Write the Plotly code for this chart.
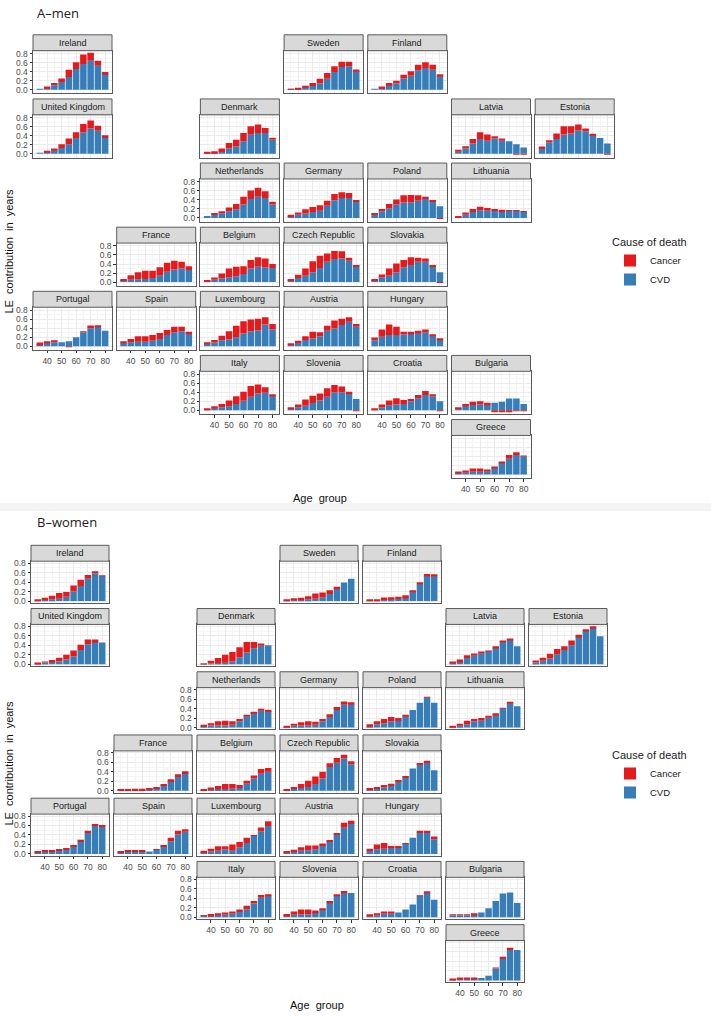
import plotly.graph_objects as go

# ---- data: LE contribution (years) by age group, CVD and cancer ----
ages = [35, 40, 45, 50, 55, 60, 65, 70, 75, 80]
countries = ["Ireland", "Sweden", "Finland", "United Kingdom", "Denmark", "Latvia", "Estonia",
             "Netherlands", "Germany", "Poland", "Lithuania", "France", "Belgium",
             "Czech Republic", "Slovakia", "Portugal", "Spain", "Luxembourg", "Austria",
             "Hungary", "Italy", "Slovenia", "Croatia", "Bulgaria", "Greece"]

men_cvd = {
    "Ireland":        [0.02, 0.04, 0.10, 0.17, 0.28, 0.46, 0.57, 0.64, 0.53, 0.35],
    "United Kingdom": [0.02, 0.03, 0.08, 0.13, 0.21, 0.35, 0.48, 0.56, 0.51, 0.35],
    "Sweden":         [0.01, 0.02, 0.06, 0.08, 0.14, 0.24, 0.39, 0.50, 0.52, 0.41],
    "Finland":        [0.02, 0.04, 0.11, 0.14, 0.25, 0.31, 0.43, 0.48, 0.44, 0.30],
    "Denmark":        [0.01, 0.02, 0.04, 0.12, 0.16, 0.28, 0.42, 0.46, 0.46, 0.31],
    "Latvia":         [0.05, 0.12, 0.23, 0.33, 0.29, 0.34, 0.29, 0.28, 0.21, 0.14],
    "Estonia":        [0.13, 0.25, 0.33, 0.43, 0.45, 0.52, 0.50, 0.42, 0.35, 0.23],
    "Lithuania":      [0.02, 0.07, 0.13, 0.17, 0.16, 0.16, 0.15, 0.16, 0.16, 0.14],
    "Netherlands":    [0.04, 0.07, 0.10, 0.15, 0.19, 0.30, 0.42, 0.47, 0.44, 0.30],
    "Germany":        [0.04, 0.07, 0.10, 0.13, 0.16, 0.27, 0.39, 0.44, 0.44, 0.36],
    "Poland":         [0.08, 0.15, 0.21, 0.30, 0.34, 0.35, 0.38, 0.42, 0.37, 0.26],
    "France":         [0.04, 0.05, 0.06, 0.07, 0.09, 0.14, 0.23, 0.28, 0.30, 0.27],
    "Belgium":        [0.02, 0.05, 0.08, 0.10, 0.13, 0.18, 0.30, 0.34, 0.33, 0.31],
    "Czech Republic": [0.03, 0.09, 0.14, 0.22, 0.31, 0.45, 0.51, 0.52, 0.47, 0.34],
    "Slovakia":       [0.04, 0.10, 0.14, 0.21, 0.33, 0.38, 0.45, 0.45, 0.35, 0.22],
    "Portugal":       [0.04, 0.07, 0.09, 0.09, 0.11, 0.20, 0.31, 0.40, 0.43, 0.34],
    "Spain":          [0.07, 0.09, 0.10, 0.10, 0.12, 0.16, 0.25, 0.31, 0.33, 0.28],
    "Luxembourg":     [0.05, 0.08, 0.13, 0.15, 0.20, 0.28, 0.33, 0.35, 0.48, 0.37],
    "Austria":        [0.04, 0.07, 0.14, 0.17, 0.22, 0.34, 0.39, 0.47, 0.54, 0.43],
    "Hungary":        [0.13, 0.21, 0.25, 0.25, 0.26, 0.28, 0.30, 0.31, 0.23, 0.15],
    "Italy":          [0.02, 0.05, 0.07, 0.09, 0.14, 0.21, 0.30, 0.37, 0.39, 0.33],
    "Slovenia":       [0.04, 0.07, 0.10, 0.16, 0.22, 0.30, 0.40, 0.40, 0.37, 0.25],
    "Croatia":        [0.02, 0.06, 0.11, 0.13, 0.14, 0.20, 0.27, 0.34, 0.31, 0.20],
    "Bulgaria":       [0.04, 0.10, 0.12, 0.13, 0.13, 0.17, 0.19, 0.26, 0.26, 0.14],
    "Greece":         [0.03, 0.05, 0.06, 0.06, 0.07, 0.14, 0.26, 0.35, 0.43, 0.40],
}
men_cancer = {
    "Ireland":        [0.00, 0.03, 0.05, 0.08, 0.16, 0.15, 0.21, 0.18, 0.11, 0.04],
    "United Kingdom": [0.00, 0.04, 0.04, 0.08, 0.13, 0.13, 0.18, 0.18, 0.11, 0.06],
    "Sweden":         [0.01, 0.02, 0.03, 0.07, 0.10, 0.13, 0.13, 0.12, 0.10, 0.04],
    "Finland":        [0.00, 0.03, 0.04, 0.06, 0.08, 0.10, 0.12, 0.13, 0.11, 0.04],
    "Denmark":        [0.02, 0.04, 0.08, 0.12, 0.15, 0.18, 0.19, 0.19, 0.11, 0.04],
    "Latvia":         [0.03, 0.05, 0.10, 0.15, 0.14, 0.05, 0.05, 0.00, -0.02, -0.02],
    "Estonia":        [0.03, 0.05, 0.12, 0.18, 0.16, 0.13, 0.06, 0.01, 0.00, -0.02],
    "Lithuania":      [0.01, 0.05, 0.07, 0.08, 0.06, 0.04, 0.03, 0.01, 0.01, 0.01],
    "Netherlands":    [0.00, 0.03, 0.05, 0.08, 0.12, 0.17, 0.19, 0.20, 0.15, 0.06],
    "Germany":        [0.03, 0.05, 0.09, 0.11, 0.12, 0.11, 0.14, 0.13, 0.11, 0.03],
    "Poland":         [0.03, 0.05, 0.10, 0.11, 0.16, 0.16, 0.12, 0.05, 0.02, -0.02],
    "France":         [0.03, 0.10, 0.16, 0.18, 0.16, 0.19, 0.20, 0.19, 0.15, 0.08],
    "Belgium":        [0.02, 0.05, 0.11, 0.20, 0.21, 0.17, 0.19, 0.21, 0.19, 0.09],
    "Czech Republic": [0.04, 0.07, 0.16, 0.24, 0.27, 0.18, 0.18, 0.16, 0.07, 0.02],
    "Slovakia":       [0.03, 0.07, 0.16, 0.20, 0.16, 0.17, 0.09, 0.07, 0.02, -0.02],
    "Portugal":       [0.04, 0.03, 0.03, 0.00, -0.02, 0.00, 0.02, 0.06, 0.03, 0.00],
    "Spain":          [0.03, 0.07, 0.12, 0.12, 0.13, 0.13, 0.11, 0.12, 0.10, 0.04],
    "Luxembourg":     [0.03, 0.06, 0.10, 0.18, 0.25, 0.27, 0.26, 0.26, 0.16, 0.12],
    "Austria":        [0.01, 0.05, 0.08, 0.15, 0.09, 0.11, 0.18, 0.14, 0.10, 0.06],
    "Hungary":        [0.06, 0.16, 0.23, 0.18, 0.06, 0.04, 0.04, 0.06, 0.03, 0.02],
    "Italy":          [0.025, 0.04, 0.07, 0.13, 0.17, 0.20, 0.24, 0.20, 0.12, 0.02],
    "Slovenia":       [0.03, 0.06, 0.14, 0.16, 0.15, 0.19, 0.16, 0.13, 0.04, -0.01],
    "Croatia":        [0.02, 0.07, 0.11, 0.14, 0.09, 0.05, 0.07, 0.09, 0.03, -0.01],
    "Bulgaria":       [0.01, 0.04, 0.07, 0.07, 0.04, -0.03, -0.04, -0.04, -0.02, -0.02],
    "Greece":         [0.02, 0.04, 0.07, 0.07, 0.02, 0.02, 0.02, 0.08, 0.06, 0.01],
}
women_cvd = {
    "Ireland":        [0.01, 0.03, 0.04, 0.05, 0.09, 0.20, 0.32, 0.47, 0.58, 0.53],
    "United Kingdom": [0.01, 0.04, 0.05, 0.06, 0.10, 0.17, 0.30, 0.42, 0.48, 0.46],
    "Sweden":         [0.01, 0.02, 0.03, 0.04, 0.05, 0.08, 0.15, 0.27, 0.39, 0.47],
    "Finland":        [0.005, 0.015, 0.025, 0.03, 0.045, 0.08, 0.20, 0.36, 0.53, 0.53],
    "Denmark":        [0.005, 0.015, 0.02, 0.03, 0.06, 0.15, 0.25, 0.34, 0.39, 0.40],
    "Latvia":         [0.03, 0.06, 0.13, 0.19, 0.23, 0.28, 0.35, 0.48, 0.52, 0.38],
    "Estonia":        [0.04, 0.075, 0.12, 0.21, 0.30, 0.40, 0.58, 0.71, 0.77, 0.59],
    "Lithuania":      [0.005, 0.04, 0.07, 0.13, 0.14, 0.21, 0.26, 0.40, 0.51, 0.45],
    "Netherlands":    [0.03, 0.04, 0.04, 0.04, 0.06, 0.13, 0.23, 0.31, 0.36, 0.35],
    "Germany":        [0.015, 0.035, 0.04, 0.05, 0.06, 0.13, 0.22, 0.37, 0.48, 0.49],
    "Poland":         [0.035, 0.07, 0.09, 0.13, 0.16, 0.24, 0.37, 0.52, 0.63, 0.52],
    "France":         [0.01, 0.015, 0.015, 0.015, 0.02, 0.06, 0.11, 0.20, 0.29, 0.37],
    "Belgium":        [0.01, 0.02, 0.03, 0.03, 0.04, 0.06, 0.15, 0.26, 0.36, 0.40],
    "Czech Republic": [0.015, 0.035, 0.06, 0.08, 0.14, 0.26, 0.50, 0.59, 0.68, 0.56],
    "Slovakia":       [0.02, 0.04, 0.07, 0.10, 0.19, 0.28, 0.47, 0.56, 0.59, 0.43],
    "Portugal":       [0.035, 0.04, 0.05, 0.065, 0.09, 0.165, 0.25, 0.44, 0.59, 0.58],
    "Spain":          [0.03, 0.05, 0.045, 0.045, 0.05, 0.085, 0.165, 0.27, 0.41, 0.47],
    "Luxembourg":     [0.03, 0.05, 0.07, 0.10, 0.07, 0.14, 0.23, 0.38, 0.48, 0.59],
    "Austria":        [0.035, 0.055, 0.07, 0.08, 0.10, 0.18, 0.27, 0.41, 0.55, 0.63],
    "Hungary":        [0.07, 0.10, 0.11, 0.13, 0.14, 0.21, 0.34, 0.45, 0.44, 0.31],
    "Italy":          [0.02, 0.035, 0.045, 0.05, 0.07, 0.11, 0.17, 0.29, 0.41, 0.46],
    "Slovenia":       [0.035, 0.05, 0.06, 0.06, 0.10, 0.16, 0.31, 0.46, 0.52, 0.51],
    "Croatia":        [0.03, 0.04, 0.07, 0.07, 0.10, 0.16, 0.27, 0.45, 0.51, 0.37],
    "Bulgaria":       [0.04, 0.04, 0.04, 0.06, 0.10, 0.19, 0.34, 0.50, 0.52, 0.30],
    "Greece":         [0.01, 0.03, 0.03, 0.03, 0.05, 0.10, 0.25, 0.45, 0.64, 0.64],
}
women_cancer = {
    "Ireland":        [0.01, 0.04, 0.07, 0.12, 0.10, 0.13, 0.13, 0.08, 0.05, 0.01],
    "United Kingdom": [0.02, 0.02, 0.04, 0.08, 0.10, 0.12, 0.11, 0.10, 0.04, 0.00],
    "Sweden":         [0.01, 0.02, 0.04, 0.06, 0.11, 0.10, 0.08, 0.03, 0.00, 0.00],
    "Finland":        [0.015, 0.025, 0.05, 0.05, 0.045, 0.04, 0.01, 0.03, 0.04, 0.03],
    "Denmark":        [0.01, 0.06, 0.115, 0.17, 0.20, 0.21, 0.22, 0.13, 0.05, 0.00],
    "Latvia":         [0.02, 0.04, 0.06, 0.03, 0.04, 0.01, 0.03, 0.02, 0.02, 0.00],
    "Estonia":        [0.035, 0.065, 0.10, 0.11, 0.08, 0.10, 0.04, 0.03, 0.03, 0.00],
    "Lithuania":      [0.015, 0.03, 0.07, 0.05, 0.06, 0.04, 0.04, 0.01, 0.02, 0.00],
    "Netherlands":    [0.03, 0.05, 0.09, 0.10, 0.07, 0.05, 0.02, 0.005, 0.02, 0.01],
    "Germany":        [0.02, 0.045, 0.07, 0.08, 0.06, 0.05, 0.06, 0.06, 0.07, 0.04],
    "Poland":         [0.035, 0.06, 0.09, 0.09, 0.04, 0.01, 0.00, 0.00, 0.02, 0.00],
    "France":         [0.01, 0.02, 0.025, 0.025, 0.02, 0.02, 0.03, 0.04, 0.06, 0.04],
    "Belgium":        [0.01, 0.05, 0.07, 0.11, 0.10, 0.06, 0.06, 0.06, 0.10, 0.08],
    "Czech Republic": [0.015, 0.045, 0.08, 0.13, 0.16, 0.14, 0.08, 0.10, 0.08, 0.06],
    "Slovakia":       [0.02, 0.04, 0.05, 0.05, 0.02, 0.02, 0.00, 0.02, 0.04, 0.00],
    "Portugal":       [0.015, 0.025, 0.03, 0.035, 0.02, 0.025, 0.05, 0.05, 0.04, 0.01],
    "Spain":          [0.025, 0.035, 0.025, 0.025, 0.00, 0.015, 0.025, 0.07, 0.08, 0.05],
    "Luxembourg":     [0.04, 0.06, 0.09, 0.06, 0.13, 0.11, 0.11, 0.01, 0.08, 0.10],
    "Austria":        [0.02, 0.035, 0.07, 0.10, 0.08, 0.04, 0.02, 0.03, 0.11, 0.07],
    "Hungary":        [0.04, 0.10, 0.12, 0.04, 0.01, 0.01, 0.00, 0.04, 0.05, 0.06],
    "Italy":          [0.015, 0.03, 0.04, 0.05, 0.05, 0.05, 0.07, 0.05, 0.06, 0.01],
    "Slovenia":       [0.03, 0.07, 0.10, 0.10, 0.04, 0.02, 0.03, 0.01, 0.03, 0.00],
    "Croatia":        [0.01, 0.03, 0.05, 0.05, 0.00, 0.00, 0.00, 0.01, 0.02, 0.00],
    "Bulgaria":       [0.02, 0.02, 0.015, 0.02, 0.00, 0.00, 0.00, 0.00, 0.00, 0.00],
    "Greece":         [0.01, 0.015, 0.03, 0.015, 0.00, 0.00, 0.01, 0.05, 0.05, 0.00],
}

# geofacet grid (row, col)
grid_pos = {
    "Ireland": (0, 0), "Sweden": (0, 3), "Finland": (0, 4),
    "United Kingdom": (1, 0), "Denmark": (1, 2), "Latvia": (1, 5), "Estonia": (1, 6),
    "Netherlands": (2, 2), "Germany": (2, 3), "Poland": (2, 4), "Lithuania": (2, 5),
    "France": (3, 1), "Belgium": (3, 2), "Czech Republic": (3, 3), "Slovakia": (3, 4),
    "Portugal": (4, 0), "Spain": (4, 1), "Luxembourg": (4, 2), "Austria": (4, 3), "Hungary": (4, 4),
    "Italy": (5, 2), "Slovenia": (5, 3), "Croatia": (5, 4), "Bulgaria": (5, 5),
    "Greece": (6, 5),
}
y_label_panels = ["Ireland", "United Kingdom", "Netherlands", "France", "Portugal", "Italy"]
x_label_panels = ["Portugal", "Spain", "Italy", "Slovenia", "Croatia", "Greece"]

W, H = 711, 1023
FONT = "Liberation Sans, Arial, sans-serif"
RED, BLUE = "#E41A1C", "#377EB8"
BORDER = "#5a5a5a"

def fx(p):
    return p / W

def fy(p):
    return 1 - p / H

sections = [
    dict(sex="men", cvd=men_cvd, cancer=men_cancer, legend="legend", title="A\u2013men", title_y=10,
         x0=33, dx=83.7, w=79, y0=32, dy=64.5, strip=16, plot=43, ytitle_y=250, xtitle=(320, 498)),
    dict(sex="women", cvd=women_cvd, cancer=women_cancer, legend="legend2", title="B\u2013women", title_y=522,
         x0=31, dx=83, w=78, y0=545.5, dy=63.6, strip=16, plot=42, ytitle_y=765, xtitle=(317, 1008)),
]

fig = go.Figure()
shapes, annotations = [], []
layout_axes = {}
k = 0
x_range = [30.275, 84.725]

for sec in sections:
    # ggplot-like y range: stacked extremes + 5% expansion
    tops = [sum(v for v in pair if v > 0) for c in countries
            for pair in zip(sec["cvd"][c], sec["cancer"][c])]
    bots = [sum(v for v in pair if v < 0) for c in countries
            for pair in zip(sec["cvd"][c], sec["cancer"][c])]
    ymax, ymin = max(tops), min(min(bots), 0)
    pad = (ymax - ymin) * 0.05
    y_range = [ymin - pad, ymax + pad]

    first = True
    for c in countries:
        k += 1
        r, col = grid_pos[c]
        left = sec["x0"] + sec["dx"] * col
        top = sec["y0"] + sec["dy"] * r
        p_top = top + sec["strip"]
        p_bot = p_top + sec["plot"]
        xa = "x" if k == 1 else f"x{k}"
        ya = "y" if k == 1 else f"y{k}"

        fig.add_trace(go.Bar(x=ages, y=sec["cvd"][c], name="CVD", marker_color=BLUE,
                             marker_line_width=0, xaxis=xa, yaxis=ya, legend=sec["legend"],
                             showlegend=first, legendrank=2))
        fig.add_trace(go.Bar(x=ages, y=sec["cancer"][c], name="Cancer", marker_color=RED,
                             marker_line_width=0, xaxis=xa, yaxis=ya, legend=sec["legend"],
                             showlegend=first, legendrank=1))
        first = False

        show_x = c in x_label_panels
        show_y = c in y_label_panels
        layout_axes["xaxis" if k == 1 else f"xaxis{k}"] = dict(
            domain=[fx(left), fx(left + sec["w"])], anchor=ya, range=x_range,
            tick0=40, dtick=10, showticklabels=show_x, ticks="outside" if show_x else "",
            ticklen=2.5, tickcolor="#333333", tickfont=dict(size=8.5, color="#4D4D4D"),
            showgrid=True, gridcolor="#EBEBEB", gridwidth=1,
            minor=dict(tick0=35, dtick=10, showgrid=True, gridcolor="#F5F5F5", gridwidth=0.6),
            showline=True, mirror=True, linecolor=BORDER, linewidth=1, zeroline=False,
            fixedrange=True)
        layout_axes["yaxis" if k == 1 else f"yaxis{k}"] = dict(
            domain=[fy(p_bot), fy(p_top)], anchor=xa, range=y_range,
            tick0=0, dtick=0.2, tickformat=".1f", showticklabels=show_y,
            ticks="outside" if show_y else "", ticklen=2.5, tickcolor="#333333",
            tickfont=dict(size=8.5, color="#4D4D4D"),
            showgrid=True, gridcolor="#EBEBEB", gridwidth=1,
            minor=dict(tick0=0.1, dtick=0.2, showgrid=True, gridcolor="#F5F5F5", gridwidth=0.6),
            showline=True, mirror=True, linecolor=BORDER, linewidth=1, zeroline=False,
            fixedrange=True)

        # facet strip
        shapes.append(dict(type="rect", xref="paper", yref="paper",
                           x0=fx(left), x1=fx(left + sec["w"]), y0=fy(p_top), y1=fy(top),
                           fillcolor="#D9D9D9", line=dict(color=BORDER, width=1), layer="above"))
        annotations.append(dict(text=c, xref="paper", yref="paper",
                                x=fx(left + sec["w"] / 2), y=fy(top + sec["strip"] / 2),
                                xanchor="center", yanchor="middle", showarrow=False,
                                font=dict(size=9, color="#1A1A1A", family=FONT)))

    annotations.append(dict(text=sec["title"], xref="paper", yref="paper", x=fx(35), y=fy(sec["title_y"]),
                            xanchor="left", yanchor="middle", showarrow=False,
                            font=dict(size=13, color="#222222", family="Open Sans, sans-serif")))
    annotations.append(dict(text="LE  contribution  in  years", xref="paper", yref="paper",
                            x=fx(9), y=fy(sec["ytitle_y"]), textangle=-90, showarrow=False,
                            xanchor="center", yanchor="middle",
                            font=dict(size=11, color="#111111", family=FONT)))
    annotations.append(dict(text="Age  group", xref="paper", yref="paper",
                            x=fx(sec["xtitle"][0]), y=fy(sec["xtitle"][1]), showarrow=False,
                            xanchor="center", yanchor="middle",
                            font=dict(size=11, color="#111111", family=FONT)))

# faint band between the two figures
shapes.append(dict(type="rect", xref="paper", yref="paper", x0=0, x1=1, y0=fy(511), y1=fy(503),
                   fillcolor="#F4F4F4", line=dict(width=0), layer="below"))

legend_style = dict(xanchor="left", yanchor="top", bgcolor="rgba(0,0,0,0)",
                    font=dict(size=9.5, color="#1A1A1A", family=FONT),
                    title=dict(text="Cause of death", font=dict(size=11, color="#1A1A1A", family=FONT)),
                    tracegroupgap=2, itemwidth=30)

fig.update_layout(
    width=W, height=H, margin=dict(l=0, r=0, t=0, b=0),
    paper_bgcolor="white", plot_bgcolor="white",
    barmode="relative", bargap=0.1,
    font=dict(family=FONT),
    shapes=shapes, annotations=annotations,
    legend=dict(x=fx(610), y=fy(230), **legend_style),
    legend2=dict(x=fx(610), y=fy(746), **legend_style),
    **layout_axes,
)

# the page body has a default 8px margin; remove it so the figure sits at (0, 0)
fig.write_html("out.html", config={"displayModeBar": False},
               post_script="document.body.style.margin='0';document.body.style.overflow='hidden';")
